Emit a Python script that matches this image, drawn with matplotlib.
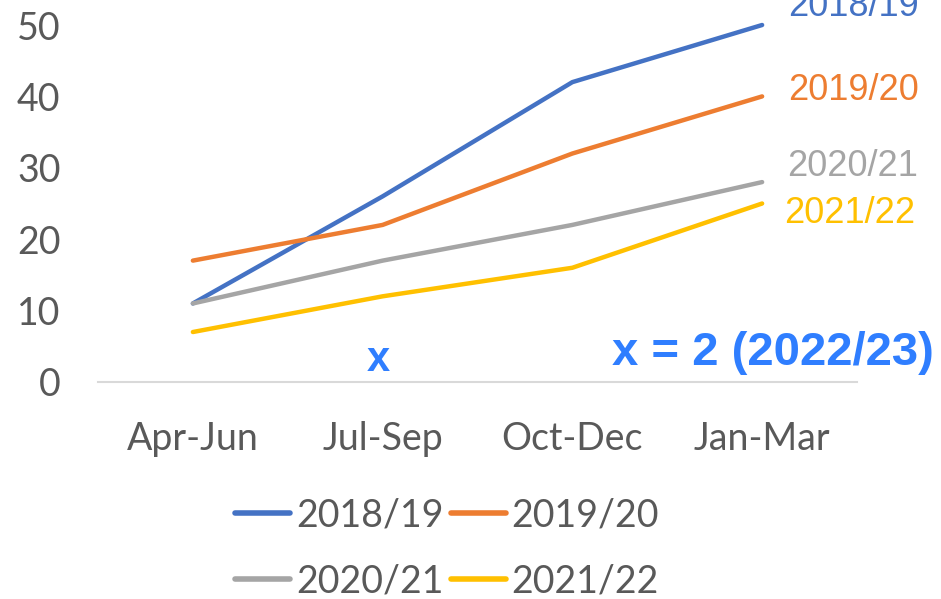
import matplotlib
matplotlib.use("Agg")
import matplotlib.pyplot as plt

categories = ["Apr-Jun", "Jul-Sep", "Oct-Dec", "Jan-Mar"]
series_names = ["2018/19", "2019/20", "2020/21", "2021/22"]
v_2018_19 = [11, 26, 42, 50]
v_2019_20 = [17, 22, 32, 40]
v_2020_21 = [11, 17, 22, 28]
v_2021_22 = [7, 12, 16, 25]
yticks = [0, 10, 20, 30, 40, 50]

series = [v_2018_19, v_2019_20, v_2020_21, v_2021_22]
colors = ["#4472C4", "#ED7D31", "#A5A5A5", "#FFC000"]
# label offsets (points) from the last point
label_offsets = [(19, 13), (19, 4), (18, 11), (16, -7)]

fig = plt.figure(figsize=(9.41, 5.99), dpi=100)
ax = fig.add_axes([98/941, 1-382/599, (857-98)/941, (382-25)/599])

xs = list(range(len(categories)))
lines = []
for name, vals, c in zip(series_names, series, colors):
    ln, = ax.plot(xs, vals, color=c, lw=3.2, label=name, clip_on=False,
                  solid_capstyle="round")
    lines.append(ln)

for name, vals, c, off in zip(series_names, series, colors, label_offsets):
    ax.annotate(name, xy=(xs[-1], vals[-1]), xytext=off, textcoords="offset points",
                ha="left", va="center", color=c, fontsize=26,
                family="Liberation Sans", annotation_clip=False)

ax.set_xlim(-0.5, 3.5)
ax.set_ylim(0, 50)
ax.set_yticks(yticks)
ax.set_xticks(xs)
ax.set_xticklabels(categories)
for s in ["top", "right", "left"]:
    ax.spines[s].set_visible(False)
ax.spines["bottom"].set_color("#D9D9D9")
ax.spines["bottom"].set_linewidth(1.5)
ax.tick_params(axis="both", length=0, labelsize=27, labelcolor="#595959")
ax.tick_params(axis="y", pad=27)
ax.tick_params(axis="x", pad=28)
for lab in ax.get_xticklabels() + ax.get_yticklabels():
    lab.set_family("Lato")

ax.text(0.975, 3.1, "x", color="#2F7EFF", fontsize=30, fontweight="bold",
        family="Liberation Sans", ha="center", va="center")
ax.text(2.21, 4.1, "x = 2 (2022/23)", color="#2F7EFF", fontsize=34, fontweight="bold",
        family="Liberation Sans", ha="left", va="center", clip_on=False)

order = [0, 2, 1, 3]
leg = fig.legend([lines[i] for i in order], [series_names[i] for i in order],
                 loc="center", bbox_to_anchor=(447/941, 1-548/599), ncol=2,
                 frameon=False, prop={"family": "Lato", "size": 27},
                 handlelength=1.47, handletextpad=0.15, columnspacing=0.2,
                 labelspacing=0.8)
for t in leg.get_texts():
    t.set_color("#595959")
for h in leg.get_lines():
    h.set_linewidth(4)

fig.savefig("out.png", dpi=100)
